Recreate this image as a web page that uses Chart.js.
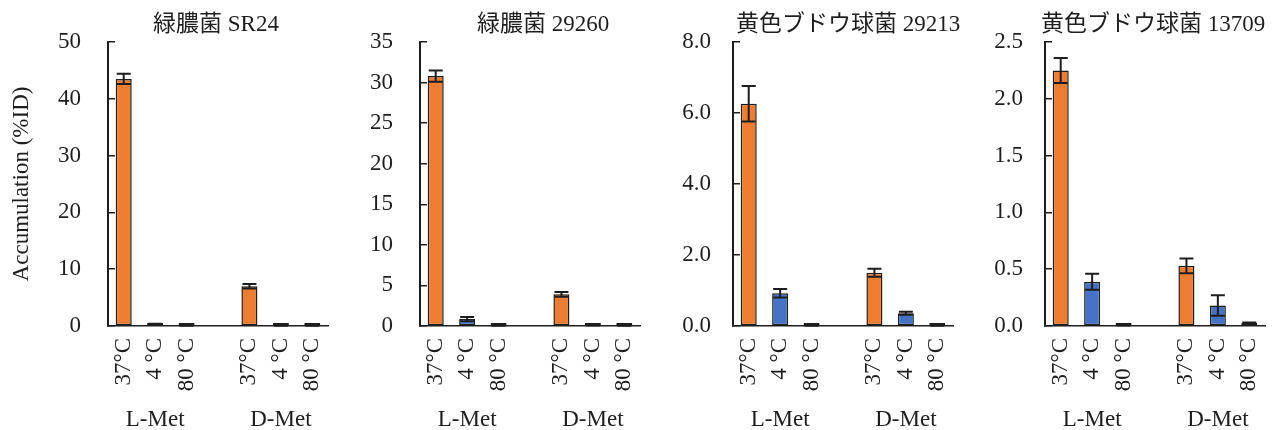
<!DOCTYPE html>
<html>
<head>
<meta charset="utf-8">
<script src="https://cdn.jsdelivr.net/npm/chart.js@4.4.0/dist/chart.umd.min.js"></script>
<style>
html, body { margin: 0; padding: 0; background: #fff; overflow: hidden; width: 1272px; height: 430px; }
canvas { position: absolute; top: 0; }
</style>
</head>
<body>
<canvas id="c0"></canvas>
<canvas id="c1"></canvas>
<canvas id="c2"></canvas>
<canvas id="c3"></canvas>
<script>
// categories on the x axis (blank slot separates L-Met and D-Met)
const categories = ['37°C', '4 °C', '80 °C', '', '37°C', '4 °C', '80 °C'];
const groupLabels = ['', 'L-Met', '', '', '', 'D-Met', ''];
const titles = ['緑膿菌 SR24', '緑膿菌 29260', '黄色ブドウ球菌 29213', '黄色ブドウ球菌 13709'];

const sr24Values = [43.5, 0.3, 0.05, null, 7.0, 0.05, 0.05];
const sr24Errors = [0.9, 0.1, 0.02, null, 0.4, 0.02, 0.02];
const pa29260Values = [30.8, 0.85, 0.03, null, 3.9, 0.1, 0.03];
const pa29260Errors = [0.7, 0.25, 0.01, null, 0.3, 0.05, 0.01];
const sa29213Values = [6.26, 0.92, 0.01, null, 1.5, 0.36, 0.01];
const sa29213Errors = [0.5, 0.12, 0.005, null, 0.11, 0.04, 0.005];
const sa13709Values = [2.25, 0.39, 0.01, null, 0.53, 0.18, 0.02];
const sa13709Errors = [0.11, 0.07, 0.005, null, 0.065, 0.09, 0.01];

const yMax = [50, 35, 8, 2.5];
const yStep = [10, 5, 2, 0.5];
const yDecimals = [0, 0, 1, 1];

const allValues = [sr24Values, pa29260Values, sa29213Values, sa13709Values];
const allErrors = [sr24Errors, pa29260Errors, sa29213Errors, sa13709Errors];

const ORANGE = '#ED7D31';
const BLUE = '#4472C4';
const barColors = [ORANGE, BLUE, BLUE, BLUE, ORANGE, BLUE, BLUE];
const INK = '#1e1e1e';
const FONT = "'Liberation Serif', 'Noto Sans CJK JP', serif";

// layout per panel: left edge of plot, centre of title, width of y axis, label padding
const plotLeft = [108, 420, 733, 1045];
const titleCenter = [216, 543, 848, 1153];
const yAxisWidth = [108, 100, 100, 100];
const yLabelPad = [34, 34, 29, 29];
const PLOT_W = 220;

const errorBars = {
    id: 'errorBars',
    afterDatasetsDraw(chart, args, opts) {
        const ctx = chart.ctx;
        const y = chart.scales.y;
        const meta = chart.getDatasetMeta(0);
        const vals = chart.data.datasets[0].data;
        ctx.save();
        ctx.strokeStyle = INK;
        ctx.lineWidth = 2;
        opts.errors.forEach((e, i) => {
            if (e == null || vals[i] == null) return;
            const bar = meta.data[i];
            const top = y.getPixelForValue(vals[i] + e);
            const bot = y.getPixelForValue(Math.max(vals[i] - e, 0));
            const cap = 7;
            ctx.beginPath();
            ctx.moveTo(bar.x, top);
            ctx.lineTo(bar.x, bot);
            ctx.moveTo(bar.x - cap, top);
            ctx.lineTo(bar.x + cap, top);
            ctx.moveTo(bar.x - cap, bot);
            ctx.lineTo(bar.x + cap, bot);
            ctx.stroke();
        });
        ctx.restore();
    }
};

function makePanel(i) {
    const canvas = document.getElementById('c' + i);
    const left = plotLeft[i] - yAxisWidth[i];
    const w = Math.round(2 * (titleCenter[i] - left));
    canvas.width = w;
    canvas.height = 430;
    canvas.style.left = left + 'px';
    const rightSpace = w - yAxisWidth[i] - PLOT_W;

    new Chart(canvas, {
        type: 'bar',
        data: {
            labels: categories,
            datasets: [{
                data: allValues[i],
                backgroundColor: barColors,
                borderColor: INK,
                borderWidth: 1.5,
                borderSkipped: false,
                minBarLength: 3,
                categoryPercentage: 1,
                barPercentage: 0.51
            }]
        },
        options: {
            responsive: false,
            animation: false,
            devicePixelRatio: 1,
            layout: { padding: 0 },
            plugins: {
                legend: { display: false },
                tooltip: { enabled: false },
                title: {
                    display: true,
                    text: titles[i],
                    color: INK,
                    font: { family: FONT, size: 23, weight: 'normal' },
                    padding: { top: 11, bottom: 3.4 }
                },
                errorBars: { errors: allErrors[i] }
            },
            scales: {
                x: {
                    offset: true,
                    grid: { display: false, drawTicks: false },
                    border: { color: INK, width: 1.5 },
                    ticks: {
                        autoSkip: false, minRotation: 90, maxRotation: 90, padding: 12,
                        color: INK, font: { family: FONT, size: 23 }
                    },
                    afterFit: s => { s.height = 70; }
                },
                x2: {
                    type: 'category',
                    labels: groupLabels,
                    position: 'bottom',
                    offset: true,
                    grid: { display: false, drawTicks: false },
                    border: { display: false },
                    ticks: {
                        autoSkip: false, maxRotation: 0, padding: 10,
                        color: INK, font: { family: FONT, size: 23 }
                    },
                    afterFit: s => { s.height = 34; }
                },
                y: {
                    min: 0,
                    max: yMax[i],
                    ticks: {
                        stepSize: yStep[i],
                        padding: yLabelPad[i],
                        color: INK,
                        font: { family: FONT, size: 23 },
                        callback: v => Number(v).toFixed(yDecimals[i])
                    },
                    grid: { drawOnChartArea: false, tickLength: -7, color: INK, lineWidth: 1.5 },
                    border: { color: INK, width: 2 },
                    title: {
                        display: i === 0,
                        text: 'Accumulation (%ID)',
                        color: INK,
                        font: { family: FONT, size: 23 },
                        padding: { top: 8, bottom: 0 }
                    },
                    afterFit: s => {
                        s.width = yAxisWidth[i];
                        s.paddingTop = 0;
                        s.paddingBottom = 0;
                    }
                },
                // empty right-hand axis: only reserves room so the title centres like the original
                yRight: {
                    type: 'linear',
                    position: 'right',
                    grid: { display: false, drawTicks: false },
                    border: { display: false },
                    ticks: { display: false },
                    afterFit: s => { s.width = rightSpace; }
                }
            }
        },
        plugins: [errorBars]
    });
}

for (let i = 0; i < 4; i++) makePanel(i);
</script>
</body>
</html>
